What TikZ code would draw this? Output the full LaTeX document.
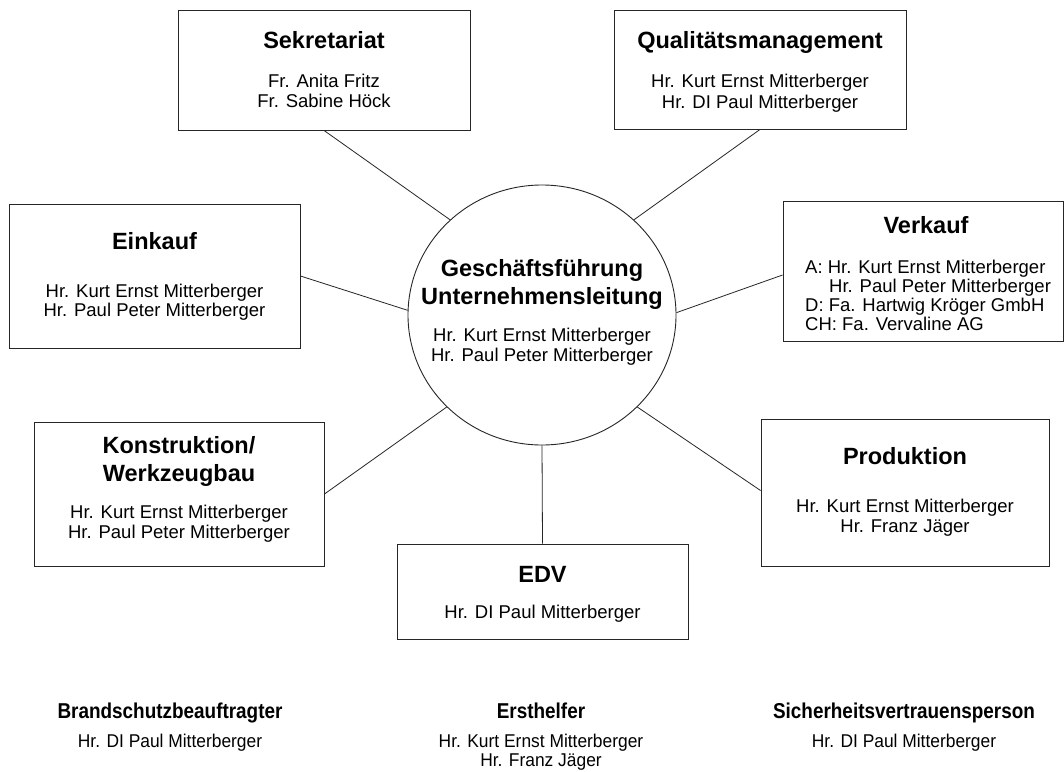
\documentclass[tikz,border=0pt]{standalone}
\usepackage{fontspec}
\setmainfont{Liberation Sans}
\newfontfamily\narrowfont[FakeStretch=0.88]{Liberation Sans}
\newfontfamily\narrowbody[FakeStretch=0.94]{Liberation Sans}
\usetikzlibrary{shapes.geometric}
\tikzset{
  box/.style={draw=black!85, line width=0.9pt, rectangle, inner sep=0pt},
  hub/.style={draw=black!85, line width=0.9pt, ellipse, inner sep=0pt, minimum width=268pt, minimum height=260pt},
  conn/.style={draw=black!85, line width=0.8pt},
  ttl/.style={anchor=base, inner sep=0pt, font=\bfseries\fontsize{23.5}{27}\selectfont},
  txt/.style={anchor=base, inner sep=0pt, font=\fontsize{18.5}{20}\selectfont},
  txtl/.style={anchor=base west, inner sep=0pt, font=\fontsize{18.5}{20}\selectfont},
  nttl/.style={anchor=base, inner sep=0pt, font=\narrowfont\bfseries\fontsize{21.5}{24}\selectfont},
  ntxt/.style={anchor=base, inner sep=0pt, font=\narrowbody\fontsize{18.5}{19}\selectfont},
}
\begin{document}
\begin{tikzpicture}[x=1pt,y=-1pt]
\useasboundingbox (0,0) rectangle (1064,771);
\fill[white] (0,0) rectangle (1064,771);

% boxes
\node[box, minimum width=292pt, minimum height=120pt] (sek) at (324,70) {};
\node[box, minimum width=292pt, minimum height=119pt] (qm) at (760,69.5) {};
\node[box, minimum width=291pt, minimum height=144pt] (ek) at (154.5,276) {};
\node[box, minimum width=280pt, minimum height=140pt] (vk) at (923,271) {};
\node[box, minimum width=290pt, minimum height=144pt] (kw) at (179,494) {};
\node[box, minimum width=291pt, minimum height=95pt] (edv) at (542.5,591.5) {};
\node[box, minimum width=288pt, minimum height=147pt] (pr) at (905,492.5) {};
\node[hub] (gf) at (542,315) {};

% connectors
\draw[conn] (sek.south) -- (gf.134);
\draw[conn] (qm.south) -- (gf.46);
\draw[conn] (ek.east) -- (gf.178);
\draw[conn] ([yshift=-4pt]vk.west) -- (gf.1);
\draw[conn] (kw.east) -- (gf.224);
\draw[conn] ([yshift=2pt]pr.west) -- (gf.316);
\draw[conn] (gf.south) -- (edv.north);

% Sekretariat
\node[ttl] (sekT) at (324,48) {Sekretariat};
\node[txt] (sek1) at (324,87) {Fr. Anita Fritz};
\node[txt] (sek2) at (324,107) {Fr. Sabine Höck};

% Qualitaetsmanagement
\node[ttl] (qmT) at (760,48) {Qualitätsmanagement};
\node[txt] (qm1) at (760,87) {Hr. Kurt Ernst Mitterberger};
\node[txt] (qm2) at (760,108) {Hr. DI Paul Mitterberger};

% Einkauf
\node[ttl] (ekT) at (154.5,249) {Einkauf};
\node[txt] (ek1) at (154.5,297) {Hr. Kurt Ernst Mitterberger};
\node[txt] (ek2) at (154.5,316) {Hr. Paul Peter Mitterberger};

% Geschaeftsfuehrung
\node[ttl] (gfT1) at (542,276) {Geschäftsführung};
\node[ttl] (gfT2) at (542,304) {Unternehmensleitung};
\node[txt] (gf1) at (542,341) {Hr. Kurt Ernst Mitterberger};
\node[txt] (gf2) at (542,361) {Hr. Paul Peter Mitterberger};

% Verkauf
\node[ttl] (vkT) at (926,233) {Verkauf};
\node[txtl] (vk1) at (805,273) {A: Hr. Kurt Ernst Mitterberger};
\node[txtl] (vk2) at (829,292) {Hr. Paul Peter Mitterberger};
\node[txtl] (vk3) at (805,311) {D: Fa. Hartwig Kröger GmbH};
\node[txtl] (vk4) at (805,330) {CH: Fa. Vervaline AG};

% Konstruktion
\node[ttl] (kwT1) at (179,453) {Konstruktion/};
\node[ttl] (kwT2) at (179,481) {Werkzeugbau};
\node[txt] (kw1) at (179,518) {Hr. Kurt Ernst Mitterberger};
\node[txt] (kw2) at (179,538) {Hr. Paul Peter Mitterberger};

% EDV
\node[ttl] (edvT) at (542.5,582) {EDV};
\node[txt] (edv1) at (542.5,618) {Hr. DI Paul Mitterberger};

% Produktion
\node[ttl] (prT) at (905,464) {Produktion};
\node[txt] (pr1) at (905,512) {Hr. Kurt Ernst Mitterberger};
\node[txt] (pr2) at (905,532) {Hr. Franz Jäger};

% bottom
\node[nttl] (bsT) at (170,718) {Brandschutzbeauftragter};
\node[ntxt] (bs1) at (170,747) {Hr. DI Paul Mitterberger};
\node[nttl] (ehT) at (541,718) {Ersthelfer};
\node[ntxt] (eh1) at (541,747) {Hr. Kurt Ernst Mitterberger};
\node[ntxt] (eh2) at (541,766) {Hr. Franz Jäger};
\node[nttl] (svT) at (904,718) {Sicherheitsvertrauensperson};
\node[ntxt] (sv1) at (904,747) {Hr. DI Paul Mitterberger};
\end{tikzpicture}
\end{document}
